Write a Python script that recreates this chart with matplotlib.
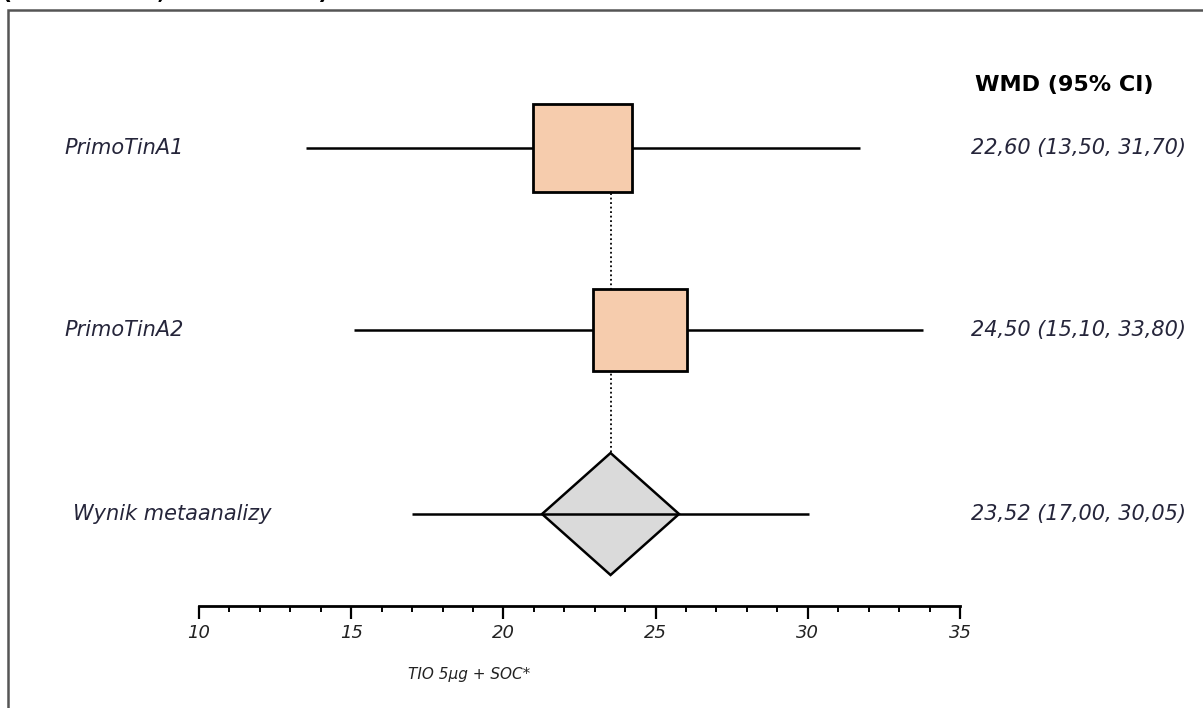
import matplotlib
matplotlib.use("Agg")
import matplotlib.pyplot as plt
from matplotlib.patches import Rectangle, Polygon
from matplotlib.ticker import MultipleLocator
import matplotlib.transforms as mtransforms

# data
studies = ["PrimoTinA1", "PrimoTinA2", "Wynik metaanalizy"]
wmd = [22.60, 24.50, 23.52]
ci_low = [13.50, 15.10, 17.00]
ci_high = [31.70, 33.80, 30.05]
ci_text = ["22,60 (13,50, 31,70)", "24,50 (15,10, 33,80)", "23,52 (17,00, 30,05)"]
x_ticks = [10, 15, 20, 25, 30, 35]
x_label = "TIO 5µg + SOC*"
col_header = "WMD (95% CI)"
title = "(PrimoTinA1, PrimoTinA2)"

# layout (pixel rows from the top of the picture)
W, H = 1203, 708
row_y = [148, 330, 514]
box_w = [3.25, 3.09]      # box widths, data units
box_hh = [44, 41]         # box half heights, px
dia_hw, dia_hh = 2.25, 61

fig = plt.figure(figsize=(W / 100, H / 100), dpi=100)
fig.patch.set_facecolor("white")
ax = fig.add_axes([199 / W, 102 / H, 761 / W, 586 / H])
ax.set_xlim(10, 35)
ax.set_ylim(606, 20)
ax.patch.set_alpha(0)
for s in ["top", "right", "left"]:
    ax.spines[s].set_visible(False)
ax.spines["bottom"].set_linewidth(2)
ax.set_yticks([])
ax.set_xticks(x_ticks)
ax.xaxis.set_minor_locator(MultipleLocator(1))
ax.tick_params(axis="x", which="major", length=9, width=1.6, pad=4,
               labelsize=13, labelcolor="#222222")
ax.tick_params(axis="x", which="minor", length=4.5, width=1.4)
for lab in ax.get_xticklabels():
    lab.set_fontstyle("italic")

# dotted line at pooled estimate
ax.plot([wmd[2], wmd[2]], [row_y[0], row_y[2] - dia_hh], color="black",
        lw=1.3, ls=(0, (1, 1.5)), zorder=1)

# studies
for i in range(2):
    ax.plot([ci_low[i], ci_high[i]], [row_y[i], row_y[i]], color="black",
            lw=1.8, zorder=2, solid_capstyle="butt")
    ax.add_patch(Rectangle((wmd[i] - box_w[i] / 2, row_y[i] - box_hh[i]),
                           box_w[i], 2 * box_hh[i], facecolor="#F6CCAD",
                           edgecolor="black", lw=2, zorder=3))

# pooled
ax.add_patch(Polygon([[wmd[2] - dia_hw, row_y[2]], [wmd[2], row_y[2] - dia_hh],
                      [wmd[2] + dia_hw, row_y[2]], [wmd[2], row_y[2] + dia_hh]],
                     closed=True, facecolor="#DADADA", edgecolor="black",
                     lw=1.8, zorder=2))
ax.plot([ci_low[2], ci_high[2]], [row_y[2], row_y[2]], color="black",
        lw=1.8, zorder=3, solid_capstyle="butt")

# text columns
tr = mtransforms.blended_transform_factory(fig.transFigure, ax.transData)
name_x = [64, 64, 73]
for i, name in enumerate(studies):
    ax.text(name_x[i] / W, row_y[i], name, transform=tr, ha="left", va="center",
            fontsize=15, fontstyle="italic", color="#25253a")
    ax.text(971 / W, row_y[i], ci_text[i], transform=tr, ha="left", va="center",
            fontsize=15, fontstyle="italic", color="#25253a")
fig.text(975 / W, 1 - 85 / H, col_header, ha="left", va="center",
         fontsize=16, fontweight="bold", color="black")

fig.text(469 / W, 1 - 674 / H, x_label, ha="center", va="center",
         fontsize=11, fontstyle="italic", color="#222222")

# title cut by the top edge
fig.text(2 / W, 1 + 1 / H, title, ha="left", va="baseline",
         fontsize=16, fontweight="bold", color="black")

# frame
fig.add_artist(Rectangle((8 / W, -0.1), 1.2, 1 - 10 / H + 0.1,
                         transform=fig.transFigure, fill=False,
                         edgecolor="#555555", lw=1.8))

fig.savefig("out.png", dpi=100, facecolor="white")
